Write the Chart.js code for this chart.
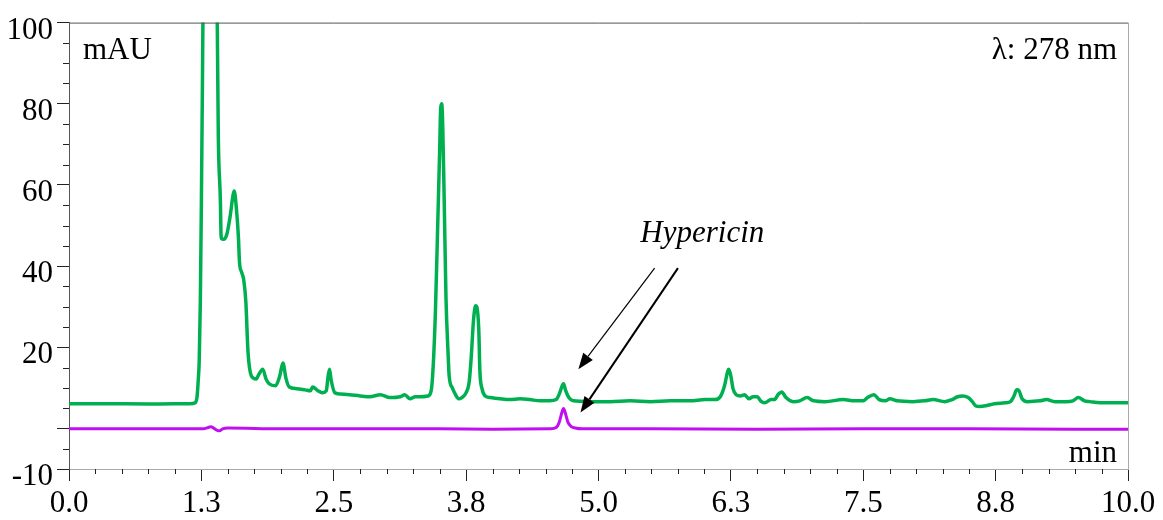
<!DOCTYPE html>
<html>
<head>
<meta charset="utf-8">
<script src="https://cdn.jsdelivr.net/npm/chart.js@4/dist/chart.umd.min.js"></script>
<style>
  body { margin: 0; background: #fff; }
  #wrap { width: 1163px; height: 520px; }
</style>
</head>
<body>
<div id="wrap"><canvas id="myChart"></canvas></div>
<script>
// Cromatograma a 278 nm
var greenT = [0.00, 0.29, 0.76, 1.14, 1.19, 1.21, 1.22, 1.23, 1.24, 1.25, 1.26, 1.27, 1.29, 1.33, 1.36, 1.39, 1.40, 1.41, 1.43, 1.435, 1.44, 1.46, 1.49, 1.52, 1.55, 1.56, 1.58, 1.60, 1.61, 1.63, 1.65, 1.67, 1.69, 1.71, 1.74, 1.77, 1.79, 1.83, 1.86, 1.89, 1.95, 1.99, 2.02, 2.05, 2.08, 2.15, 2.23, 2.28, 2.30, 2.35, 2.39, 2.43, 2.445, 2.46, 2.475, 2.51, 2.56, 2.65, 2.75, 2.84, 2.94, 3.03, 3.13, 3.17, 3.22, 3.27, 3.31, 3.39, 3.42, 3.44, 3.46, 3.48, 3.50, 3.51, 3.52, 3.53, 3.54, 3.55, 3.56, 3.58, 3.59, 3.62, 3.65, 3.68, 3.71, 3.75, 3.78, 3.80, 3.82, 3.84, 3.85, 3.87, 3.88, 3.90, 3.93, 3.98, 4.07, 4.16, 4.26, 4.35, 4.45, 4.54, 4.60, 4.63, 4.66, 4.67, 4.69, 4.72, 4.76, 4.92, 5.11, 5.30, 5.49, 5.68, 5.86, 6.01, 6.10, 6.15, 6.19, 6.22, 6.23, 6.25, 6.27, 6.30, 6.34, 6.38, 6.42, 6.46, 6.50, 6.53, 6.57, 6.63, 6.66, 6.70, 6.73, 6.77, 6.84, 6.90, 6.97, 7.03, 7.14, 7.31, 7.42, 7.50, 7.54, 7.60, 7.65, 7.71, 7.75, 7.82, 7.97, 8.08, 8.16, 8.27, 8.34, 8.39, 8.44, 8.49, 8.53, 8.56, 8.60, 8.66, 8.74, 8.84, 8.89, 8.92, 8.95, 8.97, 9.00, 9.05, 9.17, 9.23, 9.31, 9.41, 9.48, 9.53, 9.59, 9.64, 9.74, 9.88, 10.00]
var greenV = [6.1, 6.1, 6.0, 6.1, 6.3, 8.0, 11.7, 17.0, 31.0, 55.6, 85.0, 117, 150, 170, 160, 120, 100, 72.0, 55.6, 48.0, 46.8, 46.6, 47.8, 52.0, 57.6, 58.5, 54.4, 47.0, 41.0, 38.5, 36.6, 31.2, 19.0, 14.1, 12.4, 12.2, 13.2, 14.6, 12.2, 11.0, 10.5, 12.9, 16.1, 12.2, 10.2, 9.8, 9.5, 9.3, 10.2, 9.3, 8.8, 9.3, 12.5, 14.6, 12.0, 8.8, 8.5, 8.3, 8.0, 7.8, 8.3, 7.6, 7.8, 8.3, 7.3, 7.8, 7.8, 8.0, 9.3, 15.8, 28.8, 48.3, 68.5, 79.0, 80.0, 73.5, 60.5, 45.9, 32.0, 18.3, 12.9, 10.0, 8.3, 7.3, 7.6, 8.8, 11.7, 18.3, 26.8, 30.2, 30.0, 23.9, 14.1, 9.8, 8.0, 7.6, 7.3, 7.1, 7.3, 7.1, 6.8, 6.8, 7.1, 8.5, 10.7, 11.0, 9.3, 7.6, 6.8, 6.6, 6.6, 6.8, 6.6, 6.8, 6.8, 7.1, 7.1, 7.8, 10.5, 14.1, 14.6, 12.9, 9.8, 8.3, 8.0, 8.3, 7.3, 7.8, 7.8, 6.8, 6.3, 7.1, 7.1, 8.5, 9.0, 7.6, 6.6, 6.8, 7.6, 6.8, 6.6, 7.1, 6.8, 6.8, 7.6, 8.3, 7.1, 6.8, 7.3, 6.8, 6.6, 6.8, 7.1, 6.6, 7.1, 7.8, 8.0, 7.6, 6.6, 5.6, 5.4, 5.6, 6.1, 6.3, 6.6, 7.8, 9.5, 9.3, 7.3, 6.6, 6.8, 7.1, 6.6, 6.6, 6.8, 7.6, 6.8, 6.6, 6.3, 6.3, 6.3]

var purpleT = [0.00, 0.50, 1.00, 1.27, 1.31, 1.34, 1.37, 1.40, 1.42, 1.45, 1.50, 2.00, 2.50, 3.00, 3.50, 4.00, 4.55, 4.60, 4.63, 4.655, 4.67, 4.69, 4.71, 4.74, 4.78, 4.85, 5.50, 6.50, 7.50, 8.50, 9.50, 10.00]
var purpleV = [-0.1, -0.1, -0.1, -0.1, 0.2, 0.4, 0.0, -0.5, -0.6, -0.1, 0.1, -0.1, -0.1, -0.1, -0.1, -0.2, -0.1, 0.2, 1.6, 4.0, 4.9, 3.5, 1.6, 0.5, 0.1, -0.1, -0.1, -0.2, -0.1, -0.1, -0.2, -0.2]

var xMajor = [0, 1.25, 2.5, 3.75, 5, 6.25, 7.5, 8.75, 10]
var xTickLabels = ['0.0', '1.3', '2.5', '3.8', '5.0', '6.3', '7.5', '8.8', '10.0']
var yMajor = [-10, 0, 20, 40, 60, 80, 100]
var yTickLabels = ['-10', '', '20', '40', '60', '80', '100']

// setas do "Hypericin" (coordenadas em min / mAU)
var arrows = [
    { from: [5.53, 39.5], to: [4.81, 14.6], width: 1.2 },
    { from: [5.75, 39.5], to: [4.83, 3.9], width: 2 }
]

function toPoints(t, v) {
    return t.map((x, i) => ({ x: x, y: v[i] }))
}

function findMajor(list, value) {
    for (var i = 0; i < list.length; i++) {
        if (Math.abs(list[i] - value) < 1e-6) return i
    }
    return -1
}

Chart.defaults.font.family = "'Liberation Serif', serif"
Chart.defaults.color = '#000'

// ticks menores, bordas e textos
var extras = {
    id: 'extras',
    afterDraw(chart) {
        var c = chart.ctx
        var a = chart.chartArea
        var xs = chart.scales.x
        var ys = chart.scales.y
        c.save()
        // bordas superior e direita
        c.strokeStyle = '#555'
        c.lineWidth = 1
        c.beginPath()
        c.moveTo(a.left, a.top + 0.5)
        c.lineTo(a.right, a.top + 0.5)
        c.stroke()
        c.strokeStyle = '#aaa'
        c.beginPath()
        c.moveTo(a.right + 0.5, a.top)
        c.lineTo(a.right + 0.5, a.bottom)
        c.stroke()

        // ticks menores
        c.strokeStyle = '#222'
        xs.ticks.forEach((t) => {
            if (findMajor(xMajor, t.value) >= 0) return
            var px = Math.round(xs.getPixelForValue(t.value)) + 0.5
            c.beginPath()
            c.moveTo(px, a.bottom)
            c.lineTo(px, a.bottom + 5)
            c.stroke()
        })
        ys.ticks.forEach((t) => {
            if (findMajor(yMajor, t.value) >= 0) return
            var py = Math.round(ys.getPixelForValue(t.value)) + 0.5
            c.beginPath()
            c.moveTo(a.left, py)
            c.lineTo(a.left - 6, py)
            c.stroke()
        })

        // textos
        c.fillStyle = '#000'
        c.font = "31px 'Liberation Serif'"
        c.textBaseline = 'alphabetic'
        c.textAlign = 'left'
        c.fillText('mAU', a.left + 14, a.top + 36)
        c.textAlign = 'right'
        c.fillText('λ: 278 nm', a.right - 11, a.top + 36)
        c.fillStyle = '#fff'
        c.fillRect(a.right - 65, a.bottom - 29, 64, 28)
        c.fillStyle = '#000'
        c.fillText('min', a.right - 11, a.bottom - 7)
        c.textAlign = 'center'
        c.font = "italic 31px 'Liberation Serif'"
        c.fillText('Hypericin', xs.getPixelForValue(5.98), ys.getPixelForValue(46.0))

        // setas
        arrows.forEach((ar) => {
            var x1 = xs.getPixelForValue(ar.from[0]), y1 = ys.getPixelForValue(ar.from[1])
            var x2 = xs.getPixelForValue(ar.to[0]), y2 = ys.getPixelForValue(ar.to[1])
            var ang = Math.atan2(y2 - y1, x2 - x1)
            var len = 16, half = 6
            var bx = x2 - len * Math.cos(ang), by = y2 - len * Math.sin(ang)
            c.strokeStyle = '#000'
            c.lineWidth = ar.width
            c.beginPath()
            c.moveTo(x1, y1)
            c.lineTo(bx, by)
            c.stroke()
            c.fillStyle = '#000'
            c.beginPath()
            c.moveTo(x2, y2)
            c.lineTo(bx + half * Math.sin(ang), by - half * Math.cos(ang))
            c.lineTo(bx - half * Math.sin(ang), by + half * Math.cos(ang))
            c.closePath()
            c.fill()
        })
        c.restore()
    }
}

var ctx = document.getElementById('myChart').getContext('2d')
var myChart = new Chart(ctx, {
    type: 'line',
    data: {
        datasets: [{
            label: '278 nm',
            data: toPoints(greenT, greenV),
            borderColor: '#00B050',
            borderWidth: 3.5,
            pointRadius: 0,
            cubicInterpolationMode: 'monotone',
            clip: 0
        }, {
            label: 'padrão',
            data: toPoints(purpleT, purpleV),
            borderColor: '#C010F0',
            borderWidth: 3,
            pointRadius: 0,
            cubicInterpolationMode: 'monotone',
            clip: 0
        }]
    },
    options: {
        responsive: true,
        maintainAspectRatio: false,
        animation: false,
        layout: { padding: { top: 18, right: 35, left: 0, bottom: 0 } },
        plugins: {
            legend: { display: false },
            tooltip: { enabled: false }
        },
        scales: {
            x: {
                type: 'linear',
                min: 0,
                max: 10,
                afterFit: (s) => { s.height = 51 },
                border: { color: '#aaa', width: 1 },
                grid: {
                    drawOnChartArea: false,
                    tickLength: 12,
                    tickColor: (c) => findMajor(xMajor, c.tick.value) >= 0 ? '#222' : 'transparent'
                },
                ticks: {
                    stepSize: 0.25,
                    autoSkip: false,
                    maxRotation: 0,
                    padding: 4,
                    font: { size: 31 },
                    callback: (v) => {
                        var i = findMajor(xMajor, v)
                        return i >= 0 ? xTickLabels[i] : ''
                    }
                }
            },
            y: {
                min: -10,
                max: 100,
                afterFit: (s) => { s.width = 69 },
                border: { color: '#555', width: 1 },
                grid: {
                    drawOnChartArea: false,
                    tickLength: 12,
                    tickColor: (c) => findMajor(yMajor, c.tick.value) >= 0 ? '#222' : 'transparent'
                },
                ticks: {
                    stepSize: 5,
                    autoSkip: false,
                    padding: 4,
                    labelOffset: 8,
                    font: { size: 31 },
                    callback: (v) => {
                        var i = findMajor(yMajor, v)
                        return i >= 0 ? yTickLabels[i] : ''
                    }
                }
            }
        }
    },
    plugins: [extras]
})
</script>
</body>
</html>
